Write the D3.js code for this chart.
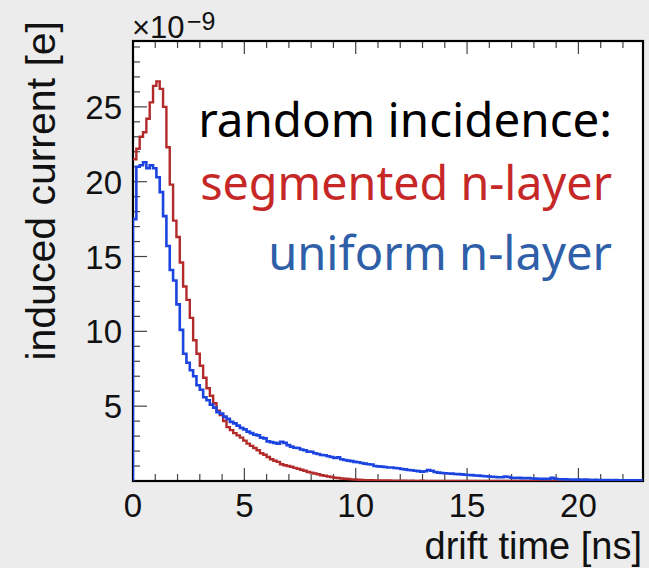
<!DOCTYPE html>
<html><head><meta charset="utf-8">
<script src="https://cdn.jsdelivr.net/npm/d3@7"></script>
<style>html,body{margin:0;padding:0;background:#ececec;}svg{display:block;}</style>
</head><body>
<svg id="c" width="649" height="568"></svg>
<script>
// ---- data ----
const binWidth = 0.15; // ns
const segmented = [
 21.5,22.2,23.0,23.3,24.2,25.3,26.4,26.7,26.2,25.0,
 22.3,19.8,17.4,16.3,14.6,13.0,12.1,10.9,9.4,8.5,
 7.7,6.9,6.2,5.7,5.2,4.7,4.4,4.0,3.6,3.4,
 3.2,3.05,2.9,2.7,2.5,2.35,2.2,2.05,1.85,1.75,
 1.6,1.45,1.35,1.28,1.12,1.05,1.0,0.95,0.88,0.82,
 0.75,0.68,0.6,0.56,0.5,0.45,0.38,0.35,0.3,0.27,
 0.22,0.2,0.17,0.15,0.13,0.11,0.1,0.08,0.07,0.06,
 0.05,0.05,0.04,0.04,0.03,0.03,0.03,0.02,0.02,0.02,
 0.02,0.02,0.01,0.02,0.01,0.01,0.02,0.01,0.01,0.01,
 0.01,0.01,0.01,0,0.01,0.01,0,0.01,0,0,
 0,0.01,0,0,0,0,0.01,0,0,0,
 0,0,0,0,0,0,0,0,0,0,
 0,0,0,0,0,0,0,0,0,0,
 0,0,0,0,0,0,0,0,0,0,
 0,0,0,0,0,0,0,0,0,0,
 0,0,0
];
const uniform = [
 17.5,21.0,21.1,21.3,20.9,21.1,20.9,20.3,19.3,17.7,
 15.7,14.1,13.4,11.8,10.1,8.5,7.9,7.4,7.0,6.4,
 6.1,5.6,5.4,5.1,4.9,4.6,4.5,4.3,4.15,3.95,
 3.85,3.7,3.55,3.45,3.3,3.2,3.1,3.05,2.9,2.85,
 2.65,2.6,2.55,2.5,2.62,2.55,2.4,2.3,2.22,2.2,
 2.1,2.05,1.96,1.95,1.85,1.8,1.74,1.72,1.65,1.6,
 1.54,1.58,1.45,1.4,1.36,1.33,1.28,1.25,1.2,1.16,
 1.12,1.1,1.0,0.98,0.96,0.94,0.9,0.9,0.87,0.85,
 0.8,0.78,0.74,0.72,0.68,0.66,0.62,0.65,0.74,0.68,
 0.6,0.56,0.53,0.52,0.5,0.49,0.47,0.46,0.44,0.42,
 0.4,0.39,0.37,0.36,0.33,0.32,0.3,0.28,0.27,0.25,
 0.25,0.3,0.27,0.22,0.2,0.22,0.19,0.18,0.2,0.17,
 0.16,0.15,0.14,0.15,0.13,0.22,0.15,0.12,0.12,0.11,
 0.1,0.1,0.09,0.1,0.08,0.09,0.08,0.07,0.08,0.07,
 0.06,0.07,0.06,0.05,0.06,0.05,0.05,0.04,0.05,0.04,0.04,0.04,0.03
];
const xDomain = [0, 22.9];
const yDomain = [0, 29.4];
const xMajorTicks = [0, 5, 10, 15, 20];
const yMajorTicks = [5, 10, 15, 20, 25];
const xTitle = "drift time [ns]";
const yTitle = "induced current [e]";
const expBase = "\u00d710";
const expPow = "\u22129";
const legendLines = ["random incidence:", "segmented n-layer", "uniform n-layer"];

// ---- layout ----
const svg = d3.select("#c");
const L = 133, R = 643, T = 41, B = 481;
const x = d3.scaleLinear().domain(xDomain).range([L, R]);
const y = d3.scaleLinear().domain(yDomain).range([B, T]);

svg.append("rect").attr("width", 649).attr("height", 568).attr("fill", "#ececec");
svg.append("rect").attr("x", L).attr("y", T).attr("width", R - L).attr("height", B - T).attr("fill", "#fff");

svg.append("defs").append("clipPath").attr("id", "clip")
  .append("rect").attr("x", L).attr("y", T - 2).attr("width", R - L).attr("height", B - T + 2);

// ticks
const xMinor = d3.range(0, 23, 1);
const yMinor = d3.range(1, 30, 1);
const tickG = svg.append("g").attr("stroke", "#444").attr("stroke-width", 1.2);
xMinor.forEach(v => {
  const major = v % 5 === 0;
  const len = major ? 13 : 7;
  tickG.append("line").attr("x1", x(v)).attr("x2", x(v)).attr("y1", B).attr("y2", B - len);
  tickG.append("line").attr("x1", x(v)).attr("x2", x(v)).attr("y1", T).attr("y2", T + len);
});
yMinor.forEach(v => {
  const major = v % 5 === 0;
  const len = major ? 14 : 7;
  tickG.append("line").attr("x1", L).attr("x2", L + len).attr("y1", y(v)).attr("y2", y(v));
});

function histPath(vals, fromZero) {
  let d = "";
  vals.forEach((v, i) => {
    const x0 = x(i * binWidth), x1 = x((i + 1) * binWidth), yy = y(v);
    if (i === 0) d += fromZero ? `M${x0},${y(0)}L${x0},${yy}` : `M${x0},${yy}`;
    else d += `L${x0},${yy}`;
    d += `L${x1},${yy}`;
  });
  return d;
}
// frame
svg.append("rect").attr("x", L).attr("y", T).attr("width", R - L).attr("height", B - T)
  .attr("fill", "none").attr("stroke", "#000").attr("stroke-width", 2.2);

const plotG = svg.append("g").attr("clip-path", "url(#clip)");
plotG.append("path").attr("d", histPath(segmented, false)).attr("fill", "none")
  .attr("stroke", "#b32a2a").attr("stroke-width", 2.4);
plotG.append("path").attr("d", histPath(uniform, true)).attr("fill", "none")
  .attr("stroke", "#1c44e0").attr("stroke-width", 2.6);

// tick labels
const axFont = "'Liberation Sans', Arial, sans-serif";
svg.append("g").selectAll("text").data(xMajorTicks).join("text")
  .attr("x", d => x(d)).attr("y", 517).attr("text-anchor", "middle")
  .attr("font-family", axFont).attr("font-size", 33).attr("fill", "#111").text(d => d);
svg.append("g").selectAll("text").data(yMajorTicks).join("text")
  .attr("x", 122).attr("y", d => y(d) + 12).attr("text-anchor", "end")
  .attr("font-family", axFont).attr("font-size", 33).attr("fill", "#111").text(d => d);

// exponent
svg.append("text").attr("x", 132).attr("y", 38).attr("font-family", axFont)
  .attr("font-size", 31).attr("fill", "#111").text(expBase);
svg.append("text").attr("x", 187).attr("y", 30).attr("font-family", axFont)
  .attr("font-size", 25).attr("fill", "#111").text(expPow);

// axis titles
svg.append("text").attr("x", 642).attr("y", 559).attr("text-anchor", "end")
  .attr("font-family", axFont).attr("font-size", 38).attr("fill", "#111").text(xTitle);
svg.append("text").attr("transform", "translate(55,21) rotate(-90)").attr("text-anchor", "end")
  .attr("font-family", axFont).attr("font-size", 41).attr("fill", "#111").text(yTitle);

// legend text
const legColors = ["#000", "#c62828", "#2f5fa8"];
const legBase = [137, 200, 270];
const legFont = "'Noto Sans', 'Open Sans', sans-serif";
const targetW = [414, 412, 344];
legendLines.forEach((s, i) => {
  const t = svg.append("text").attr("x", 612).attr("y", legBase[i]).attr("text-anchor", "end")
    .attr("font-family", legFont).attr("font-size", 44).attr("fill", legColors[i]).text(s);
  const w = t.node().getComputedTextLength();
  t.attr("font-size", 44 * targetW[i] / w);
});
</script>
</body></html>
